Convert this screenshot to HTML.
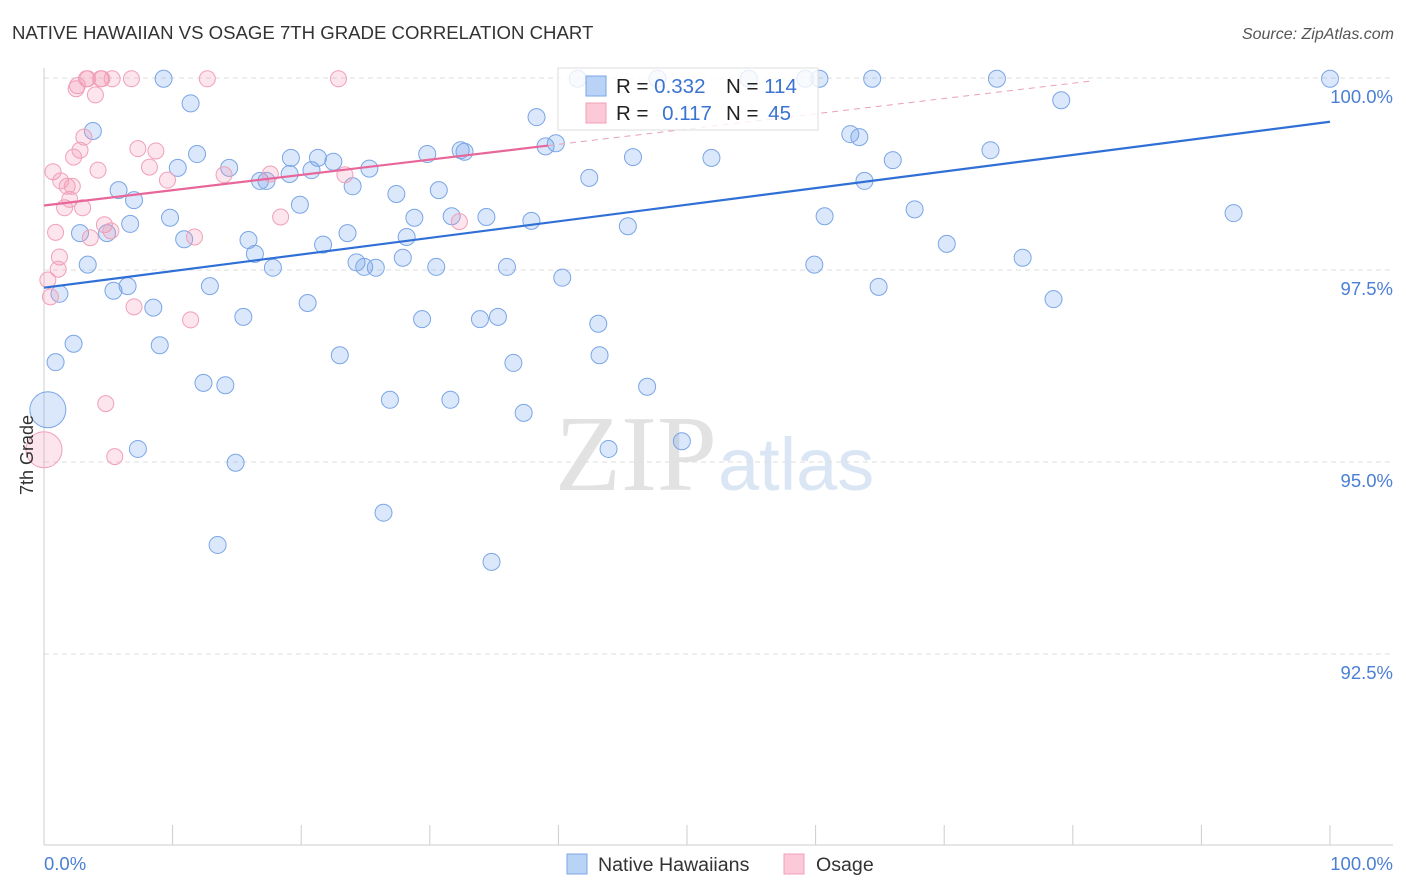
<!DOCTYPE html>
<html><head><meta charset="utf-8"><style>
body{margin:0;background:#fff;font-family:"Liberation Sans",sans-serif}
svg{display:block}
</style></head><body>
<svg id="chart" width="1406" height="892" xmlns="http://www.w3.org/2000/svg" font-family="Liberation Sans, sans-serif">
<text x="12" y="39" font-size="18.6" fill="#333">NATIVE HAWAIIAN VS OSAGE 7TH GRADE CORRELATION CHART</text>
<text x="1394" y="39" font-size="16" fill="#555" text-anchor="end" font-style="italic">Source: ZipAtlas.com</text>
<g>
<text x="555" y="490" font-size="108" fill="#e2e2e2" font-family="Liberation Serif, serif">ZIP</text>
<text x="718" y="490" font-size="74" fill="#dbe6f5">atlas</text>
</g>
<g id="grid"></g>
<g id="axes"></g>
<g id="marks"></g>
<g id="lines"></g>
<g>
<rect x="558" y="68" width="260" height="62" fill="rgba(255,255,255,0.8)" stroke="#ddd"/>
<rect x="586" y="76" width="20" height="20" fill="#b9d3f6" stroke="#7aa6e6"/>
<rect x="586" y="103" width="20" height="20" fill="#fbc9d8" stroke="#f0a0b8"/>
<text x="616" y="93" font-size="20.5" fill="#222">R = <tspan fill="#3a73d0">0.332</tspan></text>
<text x="726" y="93" font-size="20.5" fill="#222">N = <tspan fill="#3a73d0">114</tspan></text>
<text x="616" y="120" font-size="20.5" fill="#222">R = <tspan fill="#3a73d0" dx="8">0.117</tspan></text>
<text x="726" y="120" font-size="20.5" fill="#222">N = <tspan fill="#3a73d0" dx="4">45</tspan></text>
</g>
<g>
<rect x="567" y="854" width="20" height="20" fill="#b9d3f6" stroke="#7aa6e6"/>
<text x="598" y="871" font-size="19.6" fill="#333">Native Hawaiians</text>
<rect x="784" y="854" width="20" height="20" fill="#fbc9d8" stroke="#f0a0b8"/>
<text x="816" y="871" font-size="19.6" fill="#333">Osage</text>
</g>
<text transform="translate(33,455) rotate(-90)" font-size="18" fill="#333" text-anchor="middle">7th Grade</text>
</svg>
<script>
const blueX=[0.3,0.9,1.2,2.3,2.8,3.4,3.8,4.9,5.4,5.8,6.5,6.7,7.0,7.3,8.5,9.0,9.3,9.8,10.4,10.9,11.4,11.9,12.4,12.9,13.5,14.1,14.4,14.9,15.5,15.9,16.4,16.8,17.3,17.8,19.1,19.2,19.9,20.5,20.8,21.3,21.7,22.5,23.0,23.6,24.0,24.3,24.9,25.3,25.8,26.4,26.9,27.4,27.9,28.2,28.8,29.4,29.8,30.5,30.7,31.6,31.7,32.4,32.7,33.9,34.4,34.8,35.3,36.0,36.5,37.3,37.9,38.3,39.0,39.8,40.3,41.5,42.4,43.1,43.2,43.9,45.4,45.8,46.9,47.7,49.6,51.9,54.8,59.2,59.9,60.3,60.7,62.7,63.4,63.8,64.4,64.9,66.0,67.7,70.2,73.6,74.1,76.1,78.5,79.1,92.5,100];
const blueY=[95.68,96.30,97.19,96.54,97.98,97.57,99.31,97.98,97.23,98.54,97.29,98.10,98.41,95.17,97.01,96.52,99.99,98.18,98.83,97.90,99.67,99.01,96.03,97.29,93.92,96.00,98.83,94.99,96.89,97.89,97.71,98.66,98.66,97.53,98.75,98.96,98.35,97.07,98.80,98.96,97.83,98.91,96.39,97.98,98.59,97.60,97.54,98.82,97.53,94.34,95.81,98.49,97.66,97.93,98.18,96.86,99.01,97.54,98.54,95.81,98.20,99.06,99.04,96.86,98.19,93.70,96.89,97.54,96.29,95.64,98.14,99.49,99.11,99.15,97.40,99.99,98.70,96.80,96.39,95.17,98.07,98.97,95.98,99.99,95.27,98.96,99.99,99.99,97.57,99.99,98.20,99.27,99.23,98.66,99.99,97.28,98.93,98.29,97.84,99.06,99.99,97.66,97.12,99.71,98.24,99.99];
const pinkX=[0,0.3,0.5,0.7,0.9,1.1,1.2,1.3,1.6,1.8,2.0,2.2,2.3,2.5,2.6,2.8,3.0,3.1,3.3,3.4,3.6,4.0,4.2,4.4,4.5,4.7,4.8,5.2,5.3,5.5,6.8,7.0,7.3,8.2,8.7,9.6,11.4,11.7,12.7,14.0,17.6,18.4,22.9,23.4,32.3];
const pinkY=[95.16,97.37,97.15,98.78,97.99,97.51,97.67,98.66,98.31,98.59,98.42,98.59,98.97,99.86,99.90,99.06,98.31,99.23,99.99,99.99,97.92,99.78,98.80,99.99,99.99,98.09,95.76,98.01,99.99,95.07,99.99,97.02,99.08,98.84,99.05,98.67,96.85,97.93,99.99,98.74,98.75,98.19,99.99,98.74,98.13];
const yTicks=[100,97.5,95,92.5];
const yTickLabels=["100.0%","97.5%","95.0%","92.5%"];
const blueTrend=[97.27,99.43];
const pinkTrend=[98.34,0.0199];
const NS="http://www.w3.org/2000/svg";
const xs=v=>44+v*12.86, ys=v=>78+(100-v)*76.8;
function mk(t,a,p){const e=document.createElementNS(NS,t);for(const k in a)e.setAttribute(k,a[k]);p.appendChild(e);return e;}
const grid=document.getElementById('grid'),axes=document.getElementById('axes'),marks=document.getElementById('marks'),lines=document.getElementById('lines');
yTicks.forEach((v,i)=>{
 const l=mk('line',{x1:44,x2:1393,y1:ys(v),y2:ys(v),stroke:'#ddd','stroke-dasharray':'5,4'},grid);
 
 
 const t=mk('text',{x:1393,y:ys(v)+25,'font-size':18.5,fill:'#4a7fd4','text-anchor':'end'},axes);
 t.textContent=yTickLabels[i];
 
 
});
mk('line',{x1:44,x2:44,y1:68,y2:845,stroke:'#ccc'},axes);
mk('line',{x1:44,x2:1393,y1:845,y2:845,stroke:'#ccc'},axes);
for(let i=0;i<=10;i++){const t=mk('line',{x1:xs(i*10),x2:xs(i*10),y1:825,y2:845,stroke:'#ccc'},axes);
 
 }
const x0=mk('text',{x:44,y:870,'font-size':18.5,fill:'#4a7fd4'},axes);x0.textContent='0.0%';


const x1=mk('text',{x:1393,y:870,'font-size':18.5,fill:'#4a7fd4','text-anchor':'end'},axes);x1.textContent='100.0%';


blueX.forEach((x,i)=>{const c=mk('circle',{cx:xs(x),cy:ys(blueY[i]),r:i===0?18:8.5,fill:'rgba(110,160,235,0.25)',stroke:'#7aa6e6','stroke-width':1},marks);
 
 });
pinkX.forEach((x,i)=>{const c=mk('circle',{cx:xs(x),cy:ys(pinkY[i]),r:i===0?18:8,fill:'rgba(245,150,180,0.25)',stroke:'#f0a0b8','stroke-width':1},marks);
 
 });
const bl=mk('line',{x1:xs(0),y1:ys(blueTrend[0]),x2:xs(100),y2:ys(blueTrend[1]),stroke:'#2f6fd6','stroke-width':2.2},lines);


const pe=39.2, pd=81.3;
const pl=mk('line',{x1:xs(0),y1:ys(pinkTrend[0]),x2:xs(pe),y2:ys(pinkTrend[0]+pinkTrend[1]*pe),stroke:'#e8679a','stroke-width':2.2},lines);


const pdl=mk('line',{x1:xs(pe),y1:ys(pinkTrend[0]+pinkTrend[1]*pe),x2:xs(pd),y2:ys(pinkTrend[0]+pinkTrend[1]*pd),stroke:'#e8a0b8','stroke-width':1,'stroke-dasharray':'6,5'},lines);


</script>
</body></html>
